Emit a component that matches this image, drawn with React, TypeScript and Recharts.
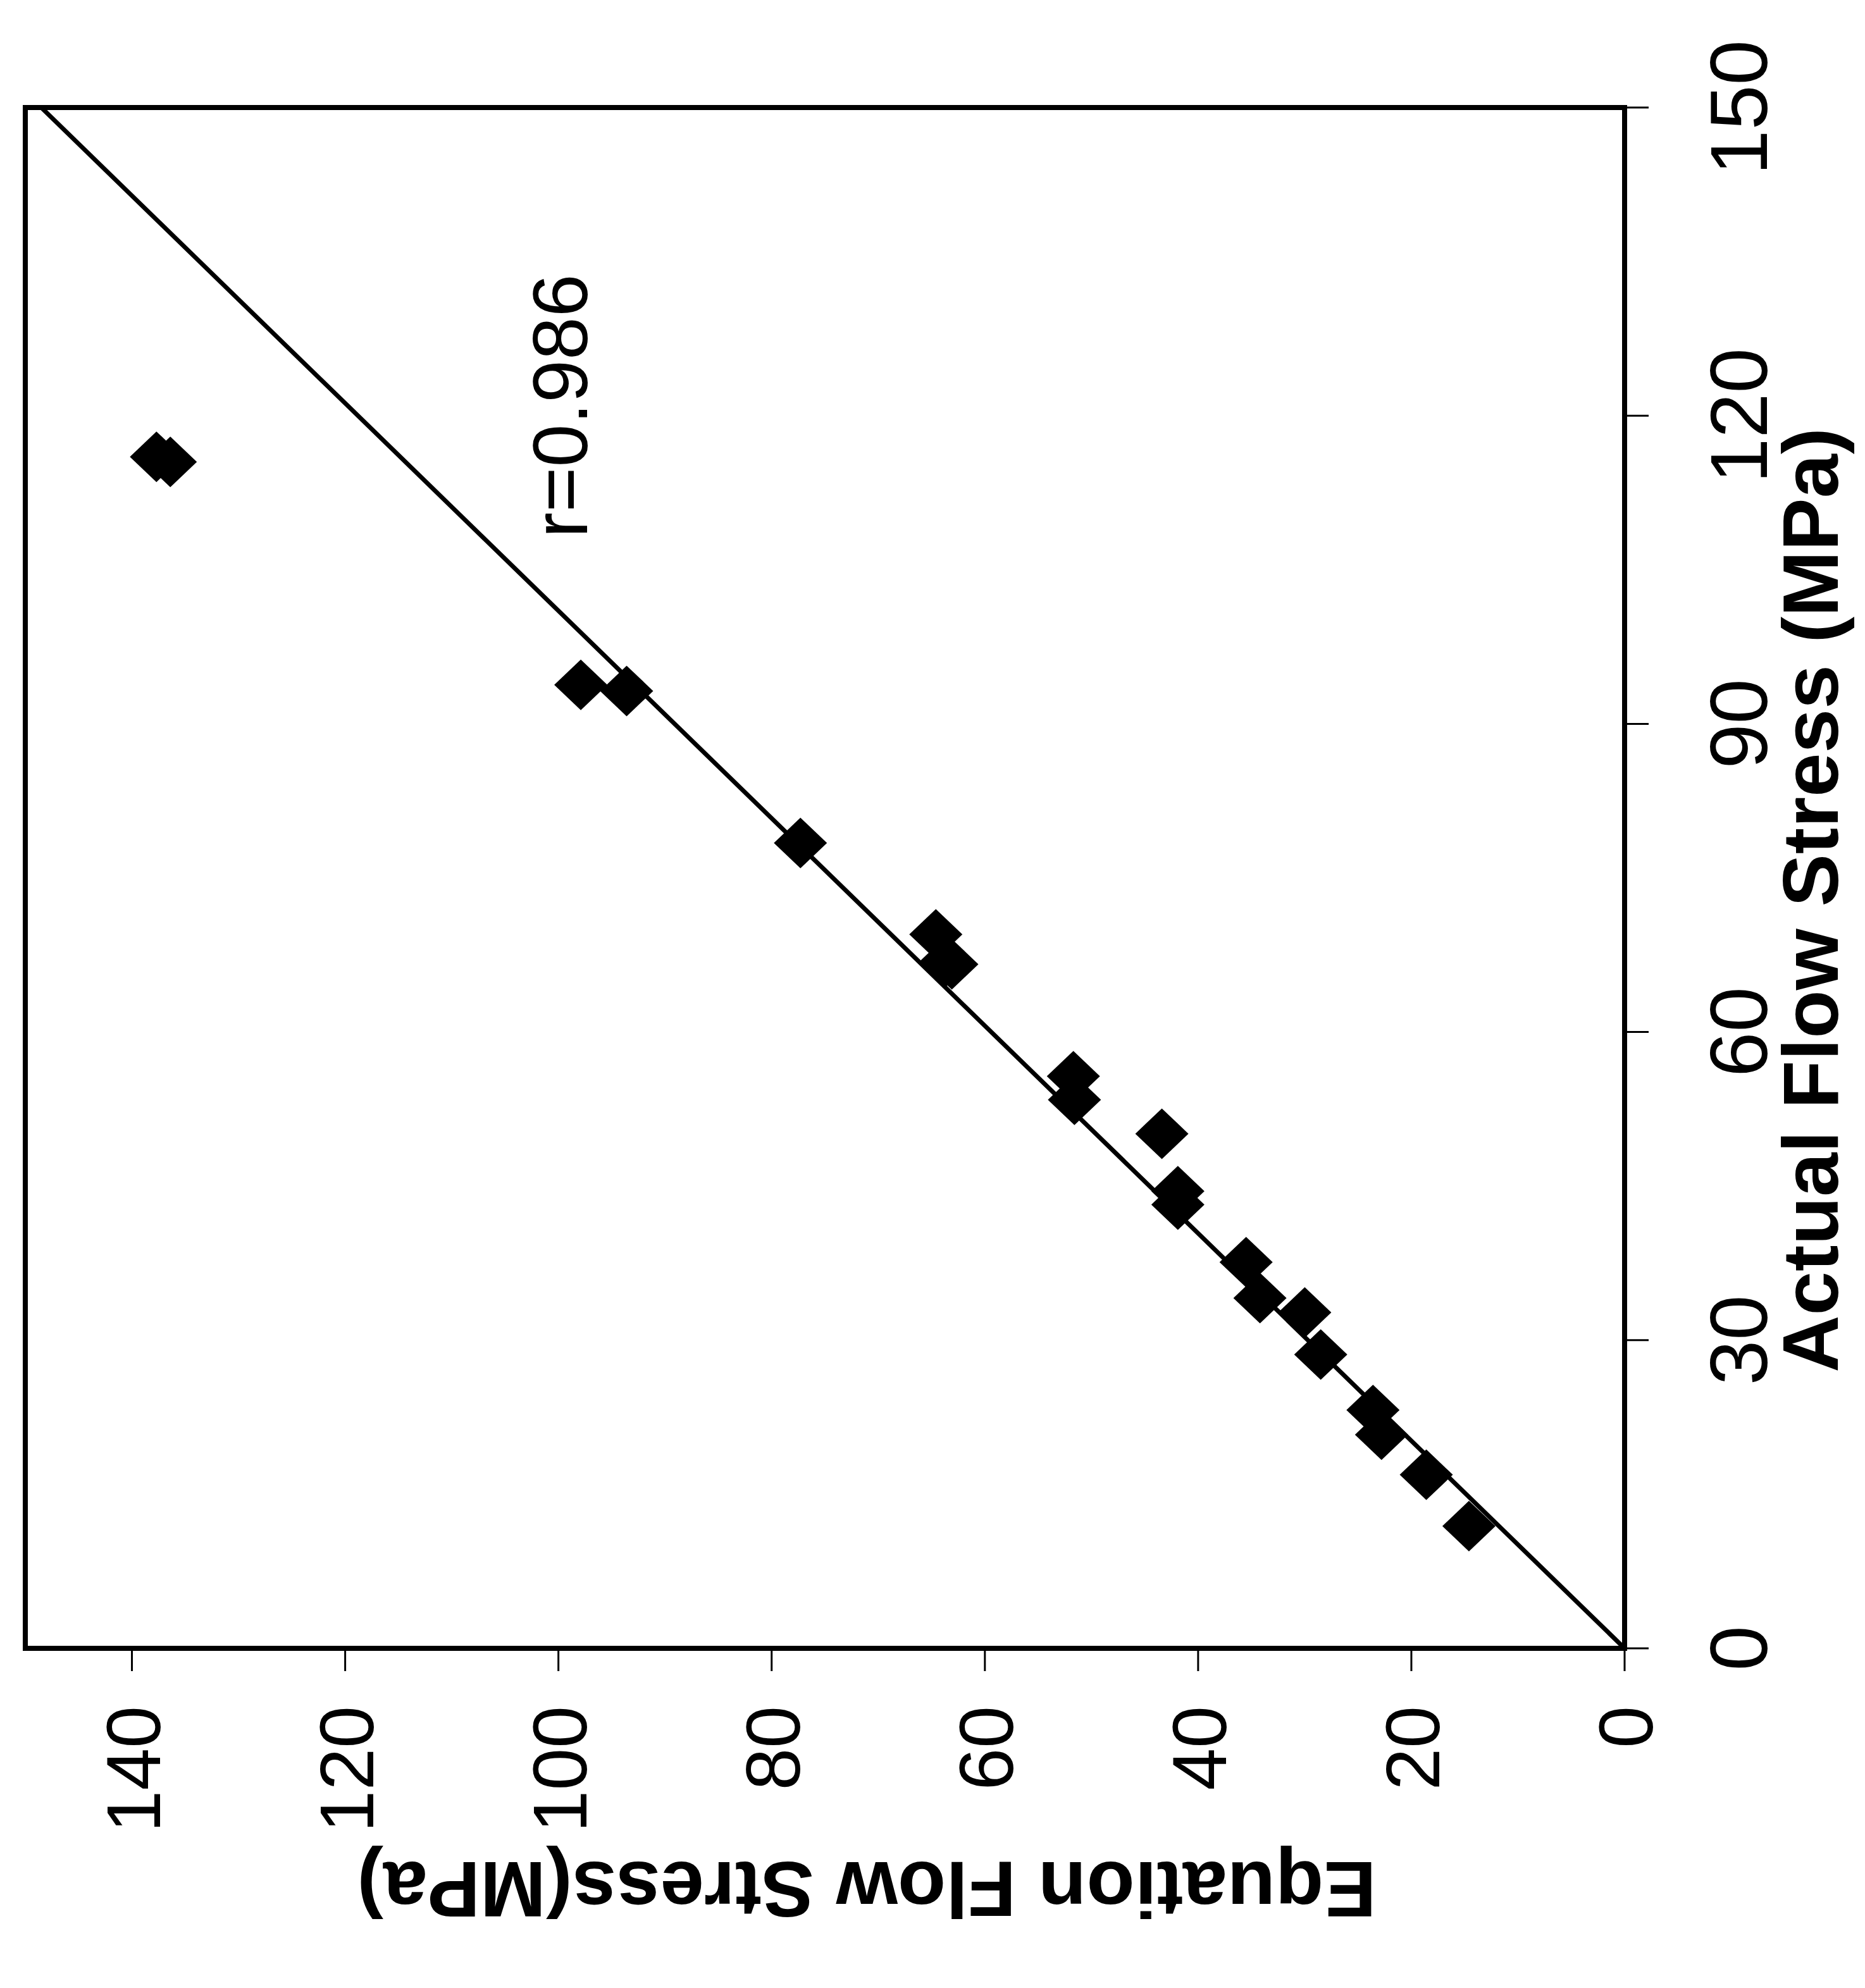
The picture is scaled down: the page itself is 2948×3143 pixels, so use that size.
import {
  Label,
  ReferenceArea,
  ReferenceDot,
  ReferenceLine,
  Scatter,
  ScatterChart,
  XAxis,
  YAxis,
} from "recharts";

const ACTUAL = [
  116.0, 115.5, 93.8, 93.2, 78.4, 69.5, 66.7, 66.6, 55.7, 53.4, 50.1, 44.5, 43.2, 37.6, 34.1,
  32.7, 28.6, 23.2, 20.8, 16.9, 11.9,
];
const EQUATION = [
  137.7, 136.4, 97.9, 93.6, 77.3, 64.6, 63.8, 63.1, 51.7, 51.6, 43.4, 41.9, 41.9, 35.5, 34.2,
  30.0, 28.5, 23.6, 22.8, 18.6, 14.6,
];
const ACTUAL_TICKS = [0, 30, 60, 90, 120, 150];
const EQUATION_TICKS = [0, 20, 40, 60, 80, 100, 120, 140];
const FIT_ACTUAL = [0, 150];
const FIT_EQUATION = [0, 148.5];
const R_TEXT = "r=0.986";
const R_AT = { actual: 108.1, equation: 97.3 };

const POINTS = ACTUAL.map((a, i) => ({ a, e: EQUATION[i] }));

const W = 2948;
const H = 3143;
const FONT = "'Liberation Sans', Arial, Helvetica, sans-serif";

function Diamond(props: any) {
  const { cx, cy } = props;
  if (cx == null || cy == null) return null;
  return (
    <path
      d={`M${cx},${cy - 40} L${cx + 42},${cy} L${cx},${cy + 40} L${cx - 42},${cy} Z`}
      fill="#000"
    />
  );
}

function ActualTick(props: any) {
  const { x, y, payload } = props;
  return (
    <text
      x={x}
      y={y}
      transform={`rotate(-90 ${x} ${y})`}
      textAnchor="middle"
      fontSize={128}
      fontFamily={FONT}
      fill="#000"
    >
      {payload.value}
    </text>
  );
}

function EquationTick(props: any) {
  const { x, y, payload } = props;
  const bx = x + 44;
  return (
    <text
      x={bx}
      y={y}
      transform={`rotate(-90 ${bx} ${y})`}
      textAnchor="end"
      fontSize={120}
      fontFamily={FONT}
      fill="#000"
    >
      {payload.value}
    </text>
  );
}

function ActualTitle(props: any) {
  const vb = props.viewBox ?? { x: 2568, y: 170, width: 380, height: 2436 };
  const x = vb.x + 337;
  const y = vb.y + vb.height / 2 + 35;
  return (
    <text
      x={x}
      y={y}
      transform={`rotate(-90 ${x} ${y})`}
      textAnchor="middle"
      fontSize={125}
      fontWeight="bold"
      fontFamily={FONT}
      fill="#000"
    >
      Actual Flow Stress (MPa)
    </text>
  );
}

function EquationTitle(props: any) {
  const vb = props.viewBox ?? { x: 40, y: 2606, width: 2528, height: 537 };
  const x = vb.x + vb.width / 2 + 66;
  const y = vb.y + 338;
  return (
    <text
      x={x}
      y={y}
      transform={`rotate(180 ${x} ${y})`}
      textAnchor="middle"
      fontSize={125}
      fontWeight="bold"
      fontFamily={FONT}
      fill="#000"
    >
      Equation Flow Stress(MPa)
    </text>
  );
}

function RText(props: any) {
  const { cx, cy } = props;
  if (cx == null || cy == null) return null;
  return (
    <text
      x={cx}
      y={cy}
      transform={`rotate(-90 ${cx} ${cy})`}
      textAnchor="start"
      fontSize={122}
      fontFamily={FONT}
      fill="#000"
    >
      {R_TEXT}
    </text>
  );
}

export default function App() {
  return (
    <div style={{ position: "absolute", left: 0, top: 0, width: W, height: H, background: "#fff" }}>
      <ScatterChart width={W} height={H} margin={{ top: 170, right: 0, bottom: 0, left: 40 }}>
        <XAxis
          type="number"
          dataKey="e"
          domain={[0, 150]}
          allowDataOverflow
          reversed
          ticks={EQUATION_TICKS}
          interval={0}
          height={537}
          axisLine={false}
          tickLine={{ stroke: "#000", strokeWidth: 3 }}
          tickSize={36}
          tickMargin={55}
          tick={<EquationTick />}
        >
          <Label content={<EquationTitle />} />
        </XAxis>
        <YAxis
          type="number"
          dataKey="a"
          orientation="right"
          domain={[0, 150]}
          allowDataOverflow
          ticks={ACTUAL_TICKS}
          interval={0}
          width={380}
          axisLine={false}
          tickLine={{ stroke: "#000", strokeWidth: 3 }}
          tickSize={38}
          tickMargin={187}
          tick={<ActualTick />}
        >
          <Label content={<ActualTitle />} />
        </YAxis>
        <ReferenceArea
          x1={0}
          x2={150}
          y1={0}
          y2={150}
          fill="none"
          fillOpacity={0}
          stroke="#000"
          strokeWidth={8}
        />
        <ReferenceLine
          segment={[
            { x: FIT_EQUATION[0], y: FIT_ACTUAL[0] },
            { x: FIT_EQUATION[1], y: FIT_ACTUAL[1] },
          ]}
          stroke="#000"
          strokeWidth={7}
        />
        <Scatter data={POINTS} fill="#000" shape={<Diamond />} isAnimationActive={false} />
        <ReferenceDot x={R_AT.equation} y={R_AT.actual} r={0} shape={<RText />} />
      </ScatterChart>
    </div>
  );
}
